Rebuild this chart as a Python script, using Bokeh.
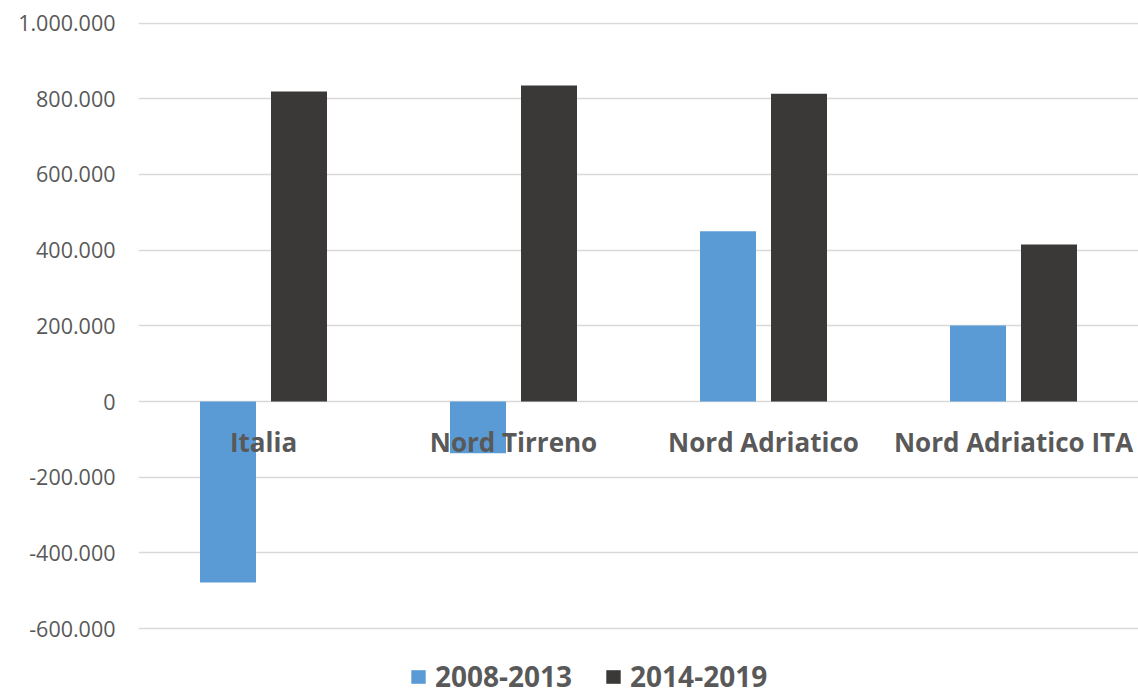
from bokeh.plotting import figure
from bokeh.models import (ColumnDataSource, FactorRange, Range1d, FixedTicker,
                          Legend, LegendItem)
from bokeh.transform import dodge
from bokeh.core.properties import value
from bokeh.embed import file_html
from bokeh.resources import INLINE

# Data
categories = ["Italia", "Nord Tirreno", "Nord Adriatico", "Nord Adriatico ITA"]
series_names = ["2008-2013", "2014-2019"]
values_2008_2013 = [-478000, -137000, 450000, 201000]
values_2014_2019 = [819000, 835000, 813000, 415000]
y_ticks = [-600000, -400000, -200000, 0, 200000, 400000, 600000, 800000, 1000000]

BLUE = "#5b9bd5"
DARK = "#3b3937"
TEXT = "#595959"
FONT = "Open Sans"

W, H = 1138, 695
TOP, GRID_BOTTOM = 22, 628          # pixel rows of the 1.000.000 and -600.000 lines
Y_MAX, Y_GRID_MIN = 1000000, -600000
# extend the frame to the canvas bottom so the legend can live inside it
per_px = (Y_MAX - Y_GRID_MIN) / (GRID_BOTTOM - TOP)
Y_MIN = Y_GRID_MIN - (H - GRID_BOTTOM) * per_px

def fmt(v):
    s = f"{abs(v):,}".replace(",", ".")
    return ("-" if v < 0 else "") + s

source = ColumnDataSource(dict(cat=categories, a=values_2008_2013, b=values_2014_2019))

p = figure(width=W, height=H, output_backend="svg", toolbar_location=None,
           x_range=FactorRange(*categories, range_padding=0),
           y_range=Range1d(Y_MIN, Y_MAX + 0.6 * per_px),
           min_border_left=138, min_border_right=0, min_border_top=TOP,
           min_border_bottom=0)
p.outline_line_color = None
p.background_fill_color = "white"
p.border_fill_color = "white"

# horizontal grid
p.xgrid.grid_line_color = None
p.ygrid.ticker = FixedTicker(ticks=y_ticks)
p.ygrid.grid_line_color = "#d9d9d9"
p.ygrid.grid_line_width = 1.5

# axes
p.xaxis.visible = False
ax = p.yaxis[0]
ax.ticker = FixedTicker(ticks=y_ticks)
ax.major_label_overrides = {t: fmt(t) for t in y_ticks}
ax.axis_line_color = None
ax.major_tick_line_color = None
ax.minor_tick_line_color = None
ax.major_tick_out = 0
ax.major_label_standoff = 23
ax.major_label_text_font = FONT
ax.major_label_text_font_size = "21.5px"
ax.major_label_text_color = TEXT

OFFSET = 0.142
WIDTH = 0.224
r1 = p.vbar(x=dodge("cat", -OFFSET, range=p.x_range), top="a", bottom=0,
            width=WIDTH, source=source, fill_color=BLUE, line_color=None)
r2 = p.vbar(x=dodge("cat", OFFSET, range=p.x_range), top="b", bottom=0,
            width=WIDTH, source=source, fill_color=DARK, line_color=None)

# category labels sitting just below the zero line
LABEL_Y = -108000
p.text(x="cat", y=LABEL_Y, text="cat", source=source,
       text_font=value(FONT), text_font_style="bold", text_font_size="26px",
       text_color=TEXT, text_align="center", text_baseline="middle")

legend = Legend(items=[LegendItem(label=series_names[0], renderers=[r1]),
                       LegendItem(label=series_names[1], renderers=[r2])],
                orientation="horizontal", location=(271, 0),
                border_line_color=None, background_fill_alpha=0,
                label_text_font=FONT, label_text_font_style="bold",
                label_text_font_size="28px", label_text_color=TEXT,
                glyph_width=18, glyph_height=17, label_standoff=8, spacing=32,
                padding=0, margin=0)
p.add_layout(legend, "center")

open("out.html", "w").write(file_html(p, INLINE))
